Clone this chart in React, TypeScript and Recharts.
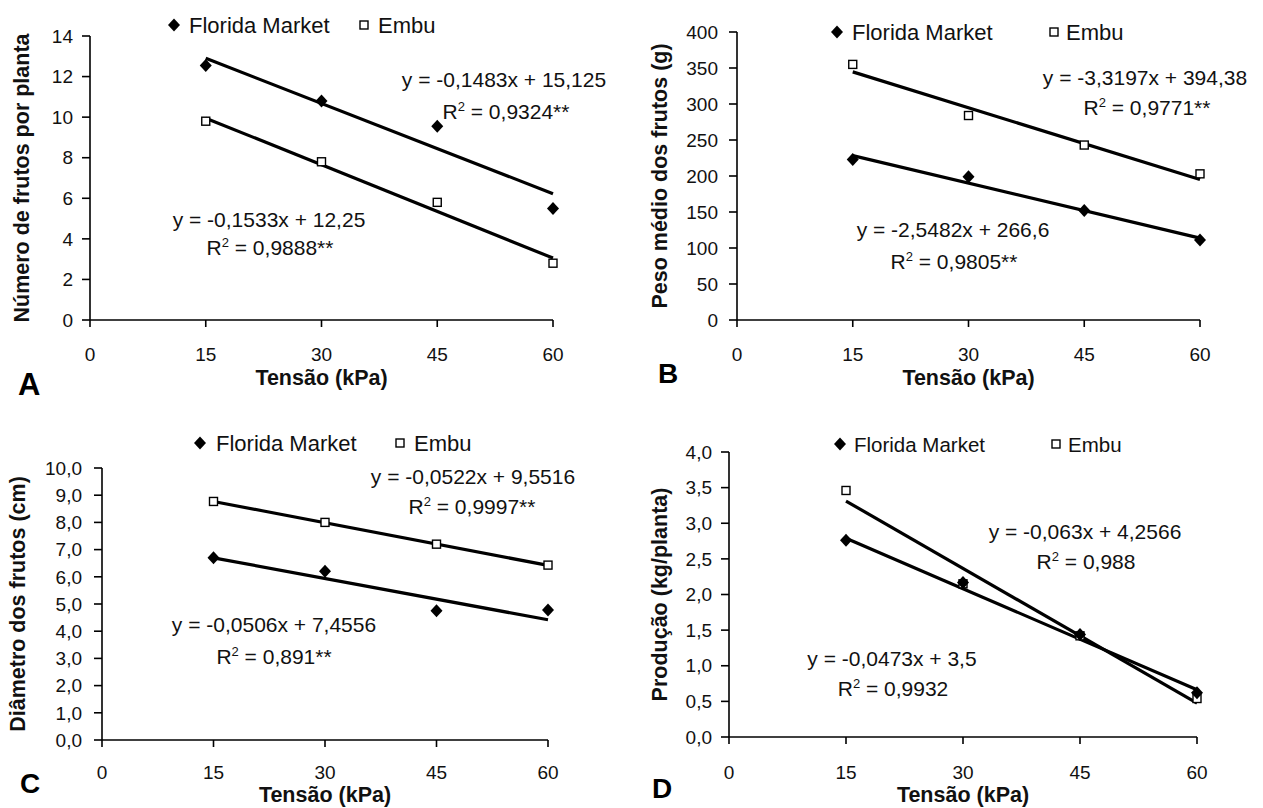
import { ScatterChart, Scatter, XAxis, YAxis, Legend } from 'recharts';

const FONT = 'Arial, "Liberation Sans", sans-serif';
const INK = '#111';

// tensões de água no solo (kPa)
const tensoes = [15, 30, 45, 60];
const ticksTensao = [0, 15, 30, 45, 60];

// A - número de frutos por planta
const frutosFlorida = [12.55, 10.8, 9.55, 5.5];
const frutosEmbu = [9.8, 7.8, 5.8, 2.8];
const retaFrutosFlorida = [-0.1483, 15.125];
const retaFrutosEmbu = [-0.1533, 12.25];
const ticksFrutos = [0, 2, 4, 6, 8, 10, 12, 14];
const eqFrutos = ['y = -0,1483x + 15,125', ' = 0,9324**', 'y = -0,1533x + 12,25', ' = 0,9888**'];

// B - peso médio dos frutos (g)
const pesoFlorida = [223, 199, 152, 111];
const pesoEmbu = [355, 284, 243, 203];
const retaPesoFlorida = [-2.5482, 266.6];
const retaPesoEmbu = [-3.3197, 394.38];
const ticksPeso = [0, 50, 100, 150, 200, 250, 300, 350, 400];
const eqPeso = ['y = -3,3197x + 394,38', ' = 0,9771**', 'y = -2,5482x + 266,6', ' = 0,9805**'];

// C - diâmetro dos frutos (cm)
const diametroFlorida = [6.7, 6.2, 4.75, 4.78];
const diametroEmbu = [8.77, 8.0, 7.2, 6.43];
const retaDiametroFlorida = [-0.0506, 7.4556];
const retaDiametroEmbu = [-0.0522, 9.5516];
const ticksDiametro = [0, 1, 2, 3, 4, 5, 6, 7, 8, 9, 10];
const eqDiametro = ['y = -0,0522x + 9,5516', ' = 0,9997**', 'y = -0,0506x + 7,4556', ' = 0,891**'];

// D - produção (kg/planta)
const producaoFlorida = [2.76, 2.17, 1.44, 0.62];
const producaoEmbu = [3.46, 2.15, 1.42, 0.54];
const retaProducaoFlorida = [-0.0473, 3.5];
const retaProducaoEmbu = [-0.063, 4.2566];
const ticksProducao = [0, 0.5, 1, 1.5, 2, 2.5, 3, 3.5, 4];
const eqProducao = ['y = -0,063x + 4,2566', ' = 0,988', 'y = -0,0473x + 3,5', ' = 0,9932'];

const pontos = (ys: number[]) => tensoes.map((x, i) => ({ x, y: ys[i] }));
const reta = ([a, b]: number[]) =>
  [tensoes[0], tensoes[tensoes.length - 1]].map((x) => ({ x, y: a * x + b }));

const inteiro = (v: number) => String(v);
const decimal = (v: number) => v.toFixed(1).replace('.', ',');

const Losango = (p: any) => (
  <path d={`M${p.cx},${p.cy - 6.5}L${p.cx + 6},${p.cy}L${p.cx},${p.cy + 6.5}L${p.cx - 6},${p.cy}Z`} fill="#000" />
);
const Quadrado = (p: any) => (
  <rect x={p.cx - 4} y={p.cy - 4} width={8} height={8} fill="#fff" stroke="#000" strokeWidth={1.4} />
);
const SemMarca = () => <g />;

const eixo = { stroke: '#000', strokeWidth: 1.6 };
const textoTick = { fontSize: 19, fill: INK, fontFamily: FONT };

const tituloX = (texto: string, y: number) => (props: any) => {
  const vb = props.viewBox;
  return (
    <text x={vb.x + vb.width / 2} y={y} textAnchor="middle" dominantBaseline="central"
      fontSize={21.5} fontWeight="bold" fill={INK} fontFamily={FONT}>{texto}</text>
  );
};

const tituloY = (texto: string, x: number) => (props: any) => {
  const vb = props.viewBox;
  const cy = vb.y + vb.height / 2;
  return (
    <text x={x} y={cy} transform={`rotate(-90 ${x} ${cy})`} textAnchor="middle" dominantBaseline="central"
      fontSize={21.5} fontWeight="bold" fill={INK} fontFamily={FONT}>{texto}</text>
  );
};

function legenda(w: number, pos: any) {
  return (props: any) => {
    const itens = (props.payload || []).filter((it: any) => it.type !== 'none');
    return (
      <svg width={w} height={40} style={{ display: 'block' }}>
        {itens.map((it: any) => {
          const losango = it.type === 'diamond';
          const mx = losango ? pos.d : pos.s;
          const tx = losango ? pos.t : pos.e;
          return (
            <g key={it.value}>
              {losango ? <Losango cx={mx} cy={20} /> : <Quadrado cx={mx} cy={20} />}
              <text x={tx} y={20} dominantBaseline="central" fontSize={pos.fs} fill={INK} fontFamily={FONT}>{it.value}</text>
            </g>
          );
        })}
      </svg>
    );
  };
}

function Painel(p: any) {
  return (
    <div style={{ position: 'absolute', left: p.left, top: p.top }}>
      <ScatterChart width={p.width} height={p.height} margin={p.margin} style={{ fontFamily: FONT }}>
        <XAxis type="number" dataKey="x" domain={[0, 60]} ticks={ticksTensao} interval={0}
          height={40} tickSize={7} tickMargin={p.xTickMargin} axisLine={eixo} tickLine={eixo} tick={textoTick}
          label={{ content: tituloX('Tensão (kPa)', p.xTitleY) }} />
        <YAxis type="number" dataKey="y" domain={[0, p.yTicks[p.yTicks.length - 1]]} ticks={p.yTicks} interval={0}
          width={p.yWidth} tickSize={8} tickMargin={p.yTickMargin} axisLine={eixo} tickLine={eixo} tick={textoTick}
          tickFormatter={p.fmt} label={{ content: tituloY(p.yTitle, p.yTitleX) }} />
        <Legend layout="horizontal" verticalAlign="middle" align="center"
          wrapperStyle={{ left: 0, top: p.leg.y - 20, width: p.width, height: 40 }}
          content={legenda(p.width, p.leg)} />
        <Scatter name="ajuste Embu" data={reta(p.retaE)} line={{ stroke: '#000', strokeWidth: 3.2 }}
          shape={SemMarca} legendType="none" isAnimationActive={false} />
        <Scatter name="ajuste Florida" data={reta(p.retaF)} line={{ stroke: '#000', strokeWidth: 3.2 }}
          shape={SemMarca} legendType="none" isAnimationActive={false} />
        <Scatter name="Embu" data={pontos(p.embu)} shape={Quadrado} legendType="square" fill="#fff" isAnimationActive={false} />
        <Scatter name="Florida Market" data={pontos(p.florida)} shape={Losango} legendType="diamond" fill="#000" isAnimationActive={false} />
      </ScatterChart>
    </div>
  );
}

function Equacao({ x, y, linhas, r }: any) {
  return (
    <text x={x} y={y} textAnchor="middle" fontSize={21} fill={INK} fontFamily={FONT}>
      {r ? (
        <>
          R<tspan fontSize={13} dy={-8}>2</tspan><tspan dy={8}>{linhas}</tspan>
        </>
      ) : linhas}
    </text>
  );
}

function Letra({ x, y, s, c }: any) {
  return <text x={x} y={y} fontSize={s} fontWeight="bold" fill="#000" fontFamily={FONT}>{c}</text>;
}

export default function App() {
  return (
    <div style={{ position: 'absolute', left: 0, top: 0, width: 1263, height: 808, background: '#fff', overflow: 'hidden' }}>
      <Painel left={0} top={0} width={630} height={400}
        margin={{ top: 36, right: 77, bottom: 40, left: 0 }} yWidth={90}
        xTickMargin={21} yTickMargin={9} xTitleY={378}
        yTicks={ticksFrutos} fmt={inteiro} yTitle="Número de frutos por planta" yTitleX={22}
        florida={frutosFlorida} embu={frutosEmbu} retaF={retaFrutosFlorida} retaE={retaFrutosEmbu}
        leg={{ y: 25, d: 174, t: 189, s: 364, e: 378, fs: 22 }} />
      <Painel left={630} top={0} width={633} height={400}
        margin={{ top: 32, right: 63, bottom: 40, left: 0 }} yWidth={107}
        xTickMargin={21} yTickMargin={11} xTitleY={378}
        yTicks={ticksPeso} fmt={inteiro} yTitle="Peso médio dos frutos (g)" yTitleX={30}
        florida={pesoFlorida} embu={pesoEmbu} retaF={retaPesoFlorida} retaE={retaPesoEmbu}
        leg={{ y: 32, d: 207, t: 222, s: 424, e: 436, fs: 22 }} />
      <Painel left={0} top={420} width={630} height={388}
        margin={{ top: 48, right: 82, bottom: 28, left: 0 }} yWidth={102}
        xTickMargin={19} yTickMargin={12} xTitleY={375}
        yTicks={ticksDiametro} fmt={decimal} yTitle="Diâmetro dos frutos (cm)" yTitleX={18}
        florida={diametroFlorida} embu={diametroEmbu} retaF={retaDiametroFlorida} retaE={retaDiametroEmbu}
        leg={{ y: 23, d: 200, t: 216, s: 400, e: 414, fs: 22 }} />
      <Painel left={630} top={420} width={633} height={388}
        margin={{ top: 32, right: 66, bottom: 31, left: 0 }} yWidth={99}
        xTickMargin={22} yTickMargin={9} xTitleY={375}
        yTicks={ticksProducao} fmt={decimal} yTitle="Produção (kg/planta)" yTitleX={30}
        florida={producaoFlorida} embu={producaoEmbu} retaF={retaProducaoFlorida} retaE={retaProducaoEmbu}
        leg={{ y: 24, d: 210, t: 224, s: 426, e: 438, fs: 20.5 }} />

      <svg width={1263} height={808} style={{ position: 'absolute', left: 0, top: 0, pointerEvents: 'none' }}>
        <Equacao x={504} y={87} linhas={eqFrutos[0]} />
        <Equacao x={506} y={119} linhas={eqFrutos[1]} r />
        <Equacao x={269} y={227} linhas={eqFrutos[2]} />
        <Equacao x={270} y={255} linhas={eqFrutos[3]} r />

        <Equacao x={1145} y={85} linhas={eqPeso[0]} />
        <Equacao x={1147} y={115} linhas={eqPeso[1]} r />
        <Equacao x={953} y={237} linhas={eqPeso[2]} />
        <Equacao x={954} y={269} linhas={eqPeso[3]} r />

        <Equacao x={473} y={484} linhas={eqDiametro[0]} />
        <Equacao x={472} y={514} linhas={eqDiametro[1]} r />
        <Equacao x={274} y={632} linhas={eqDiametro[2]} />
        <Equacao x={274} y={664} linhas={eqDiametro[3]} r />

        <Equacao x={1085} y={539} linhas={eqProducao[0]} />
        <Equacao x={1086} y={569} linhas={eqProducao[1]} r />
        <Equacao x={892} y={666} linhas={eqProducao[2]} />
        <Equacao x={893} y={696} linhas={eqProducao[3]} r />

        <Letra x={18} y={395} s={31} c="A" />
        <Letra x={658} y={383} s={28} c="B" />
        <Letra x={20} y={793} s={28} c="C" />
        <Letra x={652} y={798} s={28} c="D" />
      </svg>
    </div>
  );
}
